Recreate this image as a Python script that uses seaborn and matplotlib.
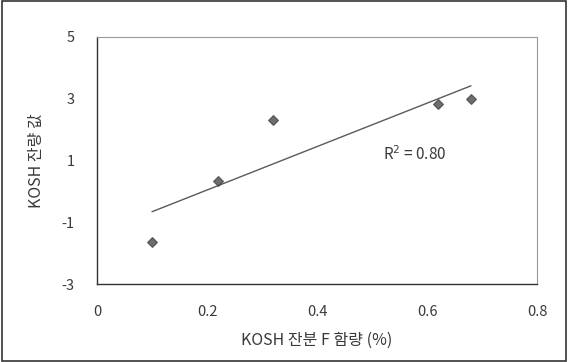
import matplotlib
matplotlib.use("Agg")
import matplotlib.pyplot as plt
import seaborn as sns
import pandas as pd
from matplotlib.patches import Rectangle

# data
f_content = [0.10, 0.22, 0.32, 0.62, 0.68]
kosh_value = [-1.65, 0.35, 2.30, 2.83, 3.00]
x_ticks = [0, 0.2, 0.4, 0.6, 0.8]
x_tick_labels = ["0", "0.2", "0.4", "0.6", "0.8"]
y_ticks = [-3, -1, 1, 3, 5]
y_tick_labels = ["-3", "-1", "1", "3", "5"]
x_label = "KOSH 잔분 F 함량 (%)"
y_label = "KOSH 잔량 값"
r2_text = "R$^2$ = 0.80"

df = pd.DataFrame({"x": f_content, "y": kosh_value})

sns.set_theme(style="white")
plt.rcParams["font.family"] = ["Noto Sans CJK KR", "DejaVu Sans"]

fig = plt.figure(figsize=(5.68, 3.62), dpi=100)
ax = fig.add_axes([97 / 568, 1 - 284 / 362, (537 - 97) / 568, (284 - 37) / 362])

txt = "#3a3a3a"
sns.regplot(data=df, x="x", y="y", ax=ax, ci=None, truncate=True,
            marker="D",
            scatter_kws=dict(s=24, color="#4a4a4a", edgecolor="#4a4a4a", zorder=3),
            line_kws=dict(color="#5a5a5a", lw=1.0))

ax.set_xlim(0, 0.8)
ax.set_ylim(-3, 5)
ax.set_xticks(x_ticks)
ax.set_xticklabels(x_tick_labels)
ax.set_yticks(y_ticks)
ax.set_yticklabels(y_tick_labels)
ax.tick_params(axis="both", direction="in", length=3, width=0.8, colors="#555555",
               labelcolor=txt, labelsize=10.5)
ax.tick_params(axis="x", pad=15)
ax.tick_params(axis="y", pad=16)
ax.set_xlabel(x_label, fontsize=11.5, color=txt, labelpad=9)
ax.set_ylabel(y_label, fontsize=11.5, color=txt, labelpad=12)

for side in ["left", "bottom"]:
    ax.spines[side].set_color("#333333")
    ax.spines[side].set_linewidth(1.0)
for side in ["top", "right"]:
    ax.spines[side].set_color("#999999")
    ax.spines[side].set_linewidth(0.8)
    ax.spines[side].set_linestyle((0, (1, 1)))

ax.text(0.52, 1.2, r2_text, fontsize=11, color=txt, va="center", ha="left")

fig.patches.append(Rectangle((0.003, 0.004), 0.994, 0.992, transform=fig.transFigure,
                             fill=False, edgecolor="#333333", lw=1.2))

fig.savefig("out.png", dpi=100)
